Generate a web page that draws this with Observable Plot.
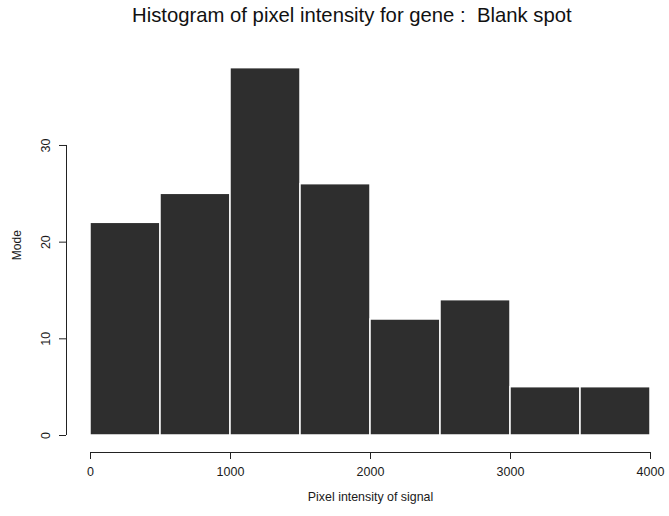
<!DOCTYPE html>
<html>
<head>
<meta charset="utf-8">
<script src="https://cdn.jsdelivr.net/npm/d3@7"></script>
<script src="https://cdn.jsdelivr.net/npm/@observablehq/plot@0.6"></script>
<style>
  html, body { margin: 0; padding: 0; background: #fff; }
  #chart { width: 669px; height: 516px; position: relative; font-family: "Liberation Sans", Arial, sans-serif; }
  #title { height: 40px; position: relative; }
  #title span { position: absolute; left: 132px; top: 4px; font-size: 20.3px; color: #111; white-space: pre; }
  svg { display: block; }
</style>
</head>
<body>
<div id="chart">
  <div id="title"><span>Histogram of pixel intensity for gene :  Blank spot</span></div>
</div>
<script>
// Histogram bins (pixel intensity) and counts
const binStart = [0, 500, 1000, 1500, 2000, 2500, 3000, 3500];
const binWidth = 500;
const counts = [22, 25, 38, 26, 12, 14, 5, 5];
const xTicks = [0, 1000, 2000, 3000, 4000];
const yTicks = [0, 10, 20, 30];

const bins = binStart.map((s, i) => ({x1: s, x2: s + binWidth, count: counts[i]}));

const plot = Plot.plot({
  width: 669,
  height: 476,
  marginLeft: 90,
  marginRight: 19,
  marginTop: 8.3,
  marginBottom: 81,
  style: {fontFamily: "'Liberation Sans', Arial, sans-serif", fontSize: "12.5px", color: "#1a1a1a"},
  x: {domain: [0, 4000]},
  y: {domain: [0, 40]},
  marks: [
    Plot.rectY(bins, {x1: "x1", x2: "x2", y: "count", fill: "#2e2e2e", stroke: "#fff", strokeWidth: 1.5}),
    // x axis, drawn below the bars
    Plot.ruleY([0], {x1: xTicks[0], x2: xTicks[xTicks.length - 1], dy: 17, stroke: "#222"}),
    Plot.axisX({ticks: xTicks, tickSize: 7, dy: 17, tickPadding: 8, tickFormat: d => String(d), label: null, stroke: "#222"}),
    Plot.text(["Pixel intensity of signal"], {frameAnchor: "bottom", dy: 65, fontSize: 12.4}),
    // y axis, offset to the left of the bars
    Plot.ruleX([0], {y1: yTicks[0], y2: yTicks[yTicks.length - 1], dx: -24, stroke: "#222"}),
    Plot.axisY({ticks: yTicks, tickSize: 7, dx: -24, tickPadding: 10, tickRotate: -90, tickFormat: d => String(d), label: null, stroke: "#222"}),
    Plot.text(["Mode"], {frameAnchor: "left", textAnchor: "middle", dx: -73, dy: 3, rotate: -90, fontSize: 12})
  ]
});
document.getElementById("chart").appendChild(plot);
</script>
</body>
</html>
